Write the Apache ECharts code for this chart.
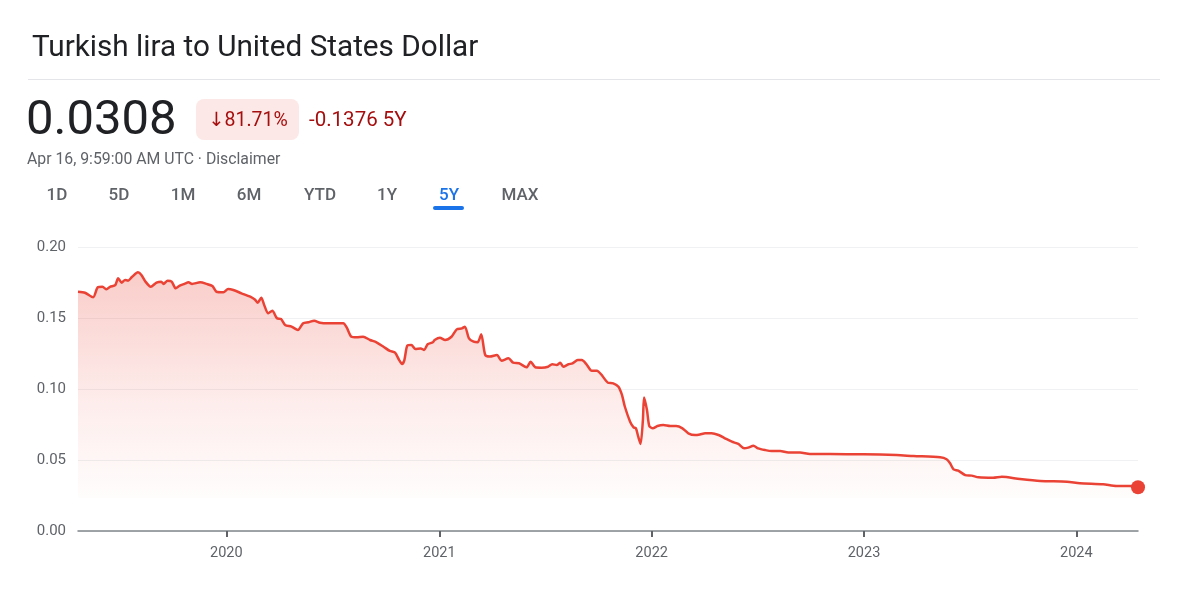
<!DOCTYPE html>
<html>
<head>
<meta charset="utf-8">
<script src="https://cdn.jsdelivr.net/npm/echarts@6/dist/echarts.min.js"></script>
<style>
html,body{margin:0;padding:0;background:#fff;}
#chart{width:1200px;height:598px;}
</style>
</head>
<body>
<div id="chart"></div>
<script>
// ---- data ----
const dates = [
'2019-04-21','2019-05-03','2019-05-17','2019-05-25','2019-06-02','2019-06-09','2019-06-15','2019-06-24','2019-06-29','2019-07-05',
'2019-07-11','2019-07-16','2019-07-23','2019-08-02','2019-08-08','2019-08-15','2019-08-24','2019-09-03','2019-09-11','2019-09-15',
'2019-09-22','2019-09-29','2019-10-06','2019-10-13','2019-10-21','2019-10-28','2019-11-03','2019-11-17','2019-11-28','2019-12-08',
'2019-12-15','2019-12-27','2020-01-04','2020-01-13','2020-01-27','2020-02-11','2020-02-19','2020-02-24','2020-03-01','2020-03-06',
'2020-03-13','2020-03-20','2020-03-28','2020-04-04','2020-04-11','2020-04-22','2020-05-03','2020-05-12','2020-05-21','2020-05-31',
'2020-06-10','2020-06-24','2020-07-09','2020-07-20','2020-07-26','2020-08-03','2020-08-12','2020-08-23','2020-09-04','2020-09-15',
'2020-09-27','2020-10-08','2020-10-17','2020-10-24','2020-10-29','2020-11-02','2020-11-07','2020-11-14','2020-11-21','2020-11-30',
'2020-12-06','2020-12-12','2020-12-21','2020-12-24','2021-01-02','2021-01-11','2021-01-22','2021-01-31','2021-02-09','2021-02-14',
'2021-02-21','2021-03-01','2021-03-08','2021-03-14','2021-03-21','2021-03-29','2021-04-10','2021-04-18','2021-04-30','2021-05-08',
'2021-05-18','2021-05-31','2021-06-07','2021-06-15','2021-06-26','2021-07-07','2021-07-14','2021-07-22','2021-07-28','2021-08-02',
'2021-08-11','2021-08-18','2021-08-27','2021-09-03','2021-09-11','2021-09-20','2021-09-29','2021-10-07','2021-10-18','2021-10-27',
'2021-11-05','2021-11-11','2021-11-16','2021-11-25','2021-12-01','2021-12-05','2021-12-09','2021-12-13','2021-12-17','2021-12-19',
'2021-12-24','2021-12-28','2022-01-03','2022-01-11','2022-01-21','2022-02-02','2022-02-12','2022-02-23','2022-03-05','2022-03-17',
'2022-03-25','2022-04-03','2022-04-14','2022-04-26','2022-05-07','2022-05-19','2022-05-30','2022-06-09','2022-06-16','2022-06-25',
'2022-07-03','2022-07-15','2022-07-26','2022-08-10','2022-08-24','2022-09-13','2022-09-30','2022-11-04','2022-12-31','2023-02-26',
'2023-03-27','2023-05-12','2023-05-23','2023-05-29','2023-06-04','2023-06-12','2023-06-24','2023-07-05','2023-07-17','2023-08-11',
'2023-08-26','2023-09-26','2023-10-31','2023-12-16','2024-01-07','2024-02-16','2024-03-10','2024-04-02','2024-04-16'
];
const rates = [
0.1685,0.1678,0.1646,0.1716,0.1720,0.1702,0.1720,0.1732,0.1780,0.1749,
0.1768,0.1763,0.1790,0.1822,0.1803,0.1756,0.1720,0.1749,0.1756,0.1740,
0.1763,0.1756,0.1709,0.1728,0.1740,0.1751,0.1740,0.1751,0.1740,0.1725,
0.1685,0.1681,0.1704,0.1697,0.1674,0.1650,0.1630,0.1608,0.1643,0.1592,
0.1533,0.1551,0.1498,0.1493,0.1451,0.1439,0.1415,0.1463,0.1470,0.1481,
0.1467,0.1463,0.1463,0.1463,0.1432,0.1368,0.1364,0.1368,0.1345,0.1329,
0.1298,0.1268,0.1256,0.1204,0.1176,0.1204,0.1305,0.1310,0.1282,0.1286,
0.1275,0.1315,0.1329,0.1345,0.1361,0.1345,0.1368,0.1420,0.1427,0.1439,
0.1357,0.1333,0.1329,0.1385,0.1239,0.1228,0.1239,0.1199,0.1216,0.1185,
0.1181,0.1153,0.1192,0.1153,0.1150,0.1157,0.1174,0.1169,0.1185,0.1157,
0.1174,0.1181,0.1204,0.1204,0.1174,0.1129,0.1129,0.1099,0.1044,0.1040,
0.1016,0.0958,0.0875,0.0770,0.0730,0.0723,0.0664,0.0613,0.0782,0.0941,
0.0852,0.0739,0.0723,0.0739,0.0746,0.0739,0.0739,0.0723,0.0688,0.0676,
0.0680,0.0688,0.0688,0.0676,0.0653,0.0629,0.0613,0.0582,0.0587,0.0601,
0.0582,0.0570,0.0563,0.0563,0.0552,0.0552,0.0542,0.0542,0.0540,0.0535,
0.0528,0.0519,0.0505,0.0477,0.0434,0.0425,0.0394,0.0390,0.0378,0.0375,
0.0382,0.0366,0.0352,0.0347,0.0336,0.0329,0.0317,0.0317,0.0308
];
const yTicks = [0, 0.05, 0.10, 0.15, 0.20];
const rangeTabs = ['1D','5D','1M','6M','YTD','1Y','5Y','MAX'];
const selectedTab = '5Y';
const titleText = 'Turkish lira to United States Dollar';
const priceText = '0.0308';
const changePct = '\u219381.71%';
const changeAbs = '-0.1376 5Y';
const stampText = 'Apr 16, 9:59:00 AM UTC \u00b7 Disclaimer';
const xMin = '2019-04-21';
const xMax = '2024-04-16';
const fillBase = 0.0232;

// ---- chart ----
const FONT = "Roboto, 'DejaVu Sans', sans-serif";
const chart = echarts.init(document.getElementById('chart'), null, {renderer:'canvas'});
const seriesData = dates.map((d,i)=>[d, rates[i]]);
const last = seriesData[seriesData.length-1];

const tabX = [57,119,183,249,320,387,449,520];
const tabGraphics = rangeTabs.map((t,i)=>({
  type:'text', x: tabX[i], y:196,
  style:{text:t, align:'center', verticalAlign:'middle',
    fill: t===selectedTab ? '#1a73e8' : '#5f6368',
    font: '500 17px ' + FONT}
}));

const option = {
  animation:false,
  backgroundColor:'#fff',
  grid:{left:78, right:62, top:247, bottom:67},
  xAxis:{
    type:'time', min:xMin, max:xMax,
    minInterval: 365*24*3600*1000,
    axisLine:{show:true, lineStyle:{color:'#80868b', width:1.5}},
    axisTick:{show:true, length:6, lineStyle:{color:'#5f6368', width:2}},
    axisLabel:{formatter:'{yyyy}', color:'#5f6368', fontSize:14.5, fontFamily:FONT, margin:15,
      showMinLabel:false, showMaxLabel:false},
    splitLine:{show:false}
  },
  yAxis:{
    type:'value', min:yTicks[0], max:yTicks[yTicks.length-1], interval:0.05,
    axisLine:{show:false}, axisTick:{show:false},
    axisLabel:{formatter:v=>v.toFixed(2), color:'#5f6368', fontSize:15, fontFamily:FONT, margin:12},
    splitLine:{lineStyle:{color:'#eff1f2', width:1}}
  },
  series:[
    {
      type:'line', data:seriesData, symbol:'none', smooth:0.25,
      lineStyle:{color:'#ea4335', width:2.5},
      areaStyle:{origin:fillBase, color:new echarts.graphic.LinearGradient(0,0,0,1,[
        {offset:0, color:'rgba(234,67,53,0.38)'},
        {offset:0.6, color:'rgba(234,67,53,0.13)'},
        {offset:1, color:'rgba(234,67,53,0.02)'}
      ])},
      z:3
    },
    {
      type:'scatter', data:[last], symbol:'circle', symbolSize:14,
      itemStyle:{color:'#ea4335', opacity:1}, z:4
    }
  ],
  graphic:[
    {type:'text', x:32, y:49, style:{text:titleText, font:'29.7px '+FONT, fill:'#202124', verticalAlign:'middle'}},
    {type:'line', shape:{x1:28, y1:79.5, x2:1160, y2:79.5}, style:{stroke:'#e3e5e8', lineWidth:1}},
    {type:'text', x:26, y:122, style:{text:priceText, font:'49px '+FONT, fill:'#202124', verticalAlign:'middle'}},
    {type:'rect', shape:{x:196, y:99, width:103, height:41, r:8}, style:{fill:'#fce8e6'}},
    {type:'text', x:248, y:121, style:{text:changePct, font:'19.5px '+FONT, fill:'#a50e0e', align:'center', verticalAlign:'middle'}},
    {type:'text', x:309, y:121, style:{text:changeAbs, font:'20.5px '+FONT, fill:'#a50e0e', verticalAlign:'middle'}},
    {type:'text', x:27, y:160, style:{text:stampText, font:'15.8px '+FONT, fill:'#5f6368', verticalAlign:'middle'}},
    ...tabGraphics,
    {type:'rect', shape:{x:433, y:206, width:31, height:4, r:2}, style:{fill:'#1a73e8'}}
  ]
};
chart.setOption(option);
</script>
</body>
</html>
